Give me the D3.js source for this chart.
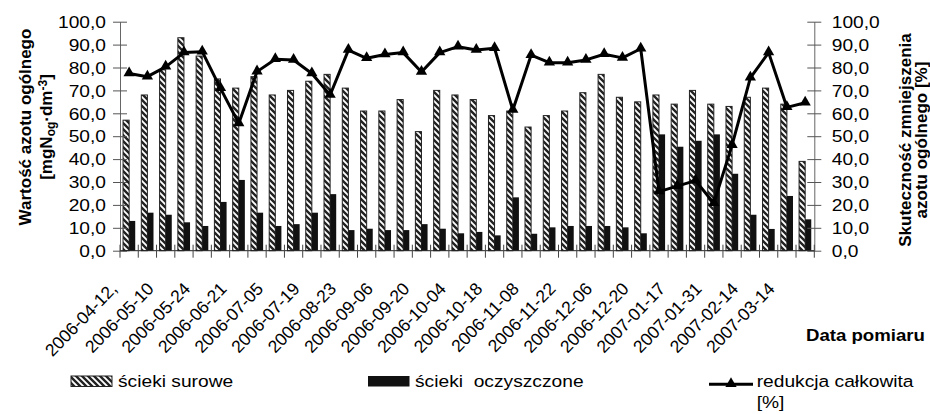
<!DOCTYPE html>
<html>
<head>
<meta charset="utf-8">
<script src="https://cdnjs.cloudflare.com/ajax/libs/d3/7.8.5/d3.min.js"></script>
<style>
  body { margin: 0; background: #fff; }
  svg text { font-family: "Liberation Sans", Arial, sans-serif; fill: #000; }
</style>
</head>
<body>
<div id="chart"></div>
<script>
// tick labels shown under every second measurement
var tickLabels = ['2006-04-12,', '2006-05-10', '2006-05-24', '2006-06-21', '2006-07-05',
  '2006-07-19', '2006-08-23', '2006-09-06', '2006-09-20', '2006-10-04', '2006-10-18',
  '2006-11-08', '2006-11-22', '2006-12-06', '2006-12-20', '2007-01-17', '2007-01-31',
  '2007-02-14', '2007-03-14'] ;
var labelEvery = 2 ;

// raw sewage, total nitrogen [mg/dm3]
var surowe = [57, 68, 79, 93, 85, 75, 71, 76, 68, 70, 74, 77, 71, 61, 61, 66, 52, 70, 68,
  66, 59, 61, 54, 59, 61, 69, 77, 67, 65, 68, 64, 70, 64, 63, 67, 71, 64, 39] ;
// treated sewage
var oczyszczone = [13, 16.6, 15.7, 12.4, 10.8, 21.3, 30.9, 16.6, 10.8, 11.6, 16.6, 24.7, 9.0,
  9.6, 9.0, 9.0, 11.6, 9.6, 7.6, 8.2, 6.7, 23.3, 7.4, 10.2, 10.8, 10.8, 10.8, 10.2, 7.6,
  50.8, 45.4, 48.0, 50.8, 33.6, 15.7, 9.5, 23.9, 13.7] ;
// total reduction [%]
var redukcja = [77.4, 76.0, 80.3, 86.5, 86.9, 70.9, 55.6, 78.2, 83.6, 83.3, 77.4, 68.0, 87.6,
  84.0, 85.7, 86.5, 78.0, 86.5, 89.1, 87.6, 88.4, 61.4, 85.4, 82.1, 82.1, 83.3, 85.8, 84.2,
  88.2, 25.8, 28.2, 30.6, 20.7, 46.1, 75.5, 86.5, 62.6, 64.6] ;

var yTicks = [0, 10, 20, 30, 40, 50, 60, 70, 80, 90, 100] ;

var width = 930, height = 414 ;
var plotL = 120, plotR = 814.3, plotT = 21.7, plotB = 250.7 ;
var SX = 1.13 ; // the picture is a bit wider than tall

var svg = d3.select('#chart').append('svg').attr('width', width).attr('height', height) ;

var defs = svg.append('defs') ;
var pat = defs.append('pattern').attr('id', 'hatch').attr('patternUnits', 'userSpaceOnUse')
  .attr('width', 6).attr('height', 6) ;
pat.append('rect').attr('width', 6).attr('height', 6).attr('fill', '#fff') ;
pat.append('path').attr('d', 'M-1,-1 L7,7 M-1,5 L1,7 M5,-1 L7,1')
  .attr('stroke', '#222').attr('stroke-width', 2.4) ;

var idx = d3.range(surowe.length) ;
var x = d3.scaleBand().domain(idx).range([plotL, plotR]).padding(0) ;
var xs = d3.scaleBand().domain(['s', 'o']).range([0, x.bandwidth()]).paddingInner(0).paddingOuter(0.5) ;
var y = d3.scaleLinear().domain([0, 100]).range([plotB, plotT]) ;
var fmt = function(d) { return d3.format('.1f')(d).replace('.', ',') ; } ;

// bars
svg.append('g').selectAll('rect').data(idx).join('rect')
  .attr('x', function(i) { return x(i) + xs('s') ; })
  .attr('y', function(i) { return y(surowe[i]) ; })
  .attr('width', xs.bandwidth())
  .attr('height', function(i) { return y(0) - y(surowe[i]) ; })
  .attr('fill', 'url(#hatch)').attr('stroke', '#222').attr('stroke-width', 1) ;
svg.append('g').selectAll('rect').data(idx).join('rect')
  .attr('x', function(i) { return x(i) + xs('o') ; })
  .attr('y', function(i) { return y(oczyszczone[i]) ; })
  .attr('width', xs.bandwidth())
  .attr('height', function(i) { return y(0) - y(oczyszczone[i]) ; })
  .attr('fill', '#111') ;

// axes
var ax = svg.append('g').attr('transform', 'translate(' + plotL + ',0)')
  .call(d3.axisLeft(y).tickValues(yTicks).tickSize(7).tickSizeOuter(0).tickFormat(fmt)) ;
var ax2 = svg.append('g').attr('transform', 'translate(' + plotR + ',0)')
  .call(d3.axisRight(y).tickValues(yTicks).tickSize(7).tickSizeOuter(0).tickFormat(fmt)) ;
[ax, ax2].forEach(function(a, k) {
  a.select('.domain').attr('stroke', '#666') ;
  a.selectAll('.tick line').attr('stroke', '#555').attr('x1', k == 0 ? 7 : -7) ;
  a.selectAll('.tick text').attr('x', null).attr('dy', '0.34em')
    .attr('transform', k == 0 ? 'translate(-14,0) scale(' + SX + ',1)' : 'translate(17.4,0) scale(' + SX + ',1)')
    .style('font-size', '17px') ;
}) ;

// category axis with cross ticks between categories
svg.append('line').attr('x1', plotL).attr('x2', plotR).attr('y1', plotB).attr('y2', plotB)
  .attr('stroke', '#222') ;
svg.append('g').selectAll('line').data(d3.range(surowe.length + 1)).join('line')
  .attr('x1', function(i) { return plotL + i * x.step() ; })
  .attr('x2', function(i) { return plotL + i * x.step() ; })
  .attr('y1', plotB - 6).attr('y2', plotB + 7)
  .attr('stroke', '#444') ;
svg.append('g').selectAll('text').data(tickLabels).join('text')
  .attr('transform', function(d, i) {
    var c = x(i * labelEvery) + x.bandwidth() / 2 ;
    return 'translate(' + (c - 11) + ',' + (plotB + 39) + ') rotate(-46)' ;
  })
  .attr('text-anchor', 'end').style('font-size', '17.5px')
  .text(function(d) { return d ; }) ;

// reduction line
var cx = function(i) { return x(i) + x.bandwidth() / 2 ; } ;
svg.append('path').datum(idx)
  .attr('d', d3.line().x(cx).y(function(i) { return y(redukcja[i]) ; }))
  .attr('fill', 'none').attr('stroke', '#000').attr('stroke-width', 3).attr('stroke-linejoin', 'round') ;
svg.append('g').selectAll('path').data(idx).join('path')
  .attr('d', d3.symbol(d3.symbolTriangle, 55))
  .attr('transform', function(i) { return 'translate(' + cx(i) + ',' + (y(redukcja[i]) - 0.5) + ')' ; })
  .attr('fill', '#000') ;

// titles
var lt = svg.append('g').attr('transform', 'translate(0,' + 127 + ') rotate(-90)')
  .style('font-size', '17px').style('font-weight', 'bold') ;
lt.append('text').attr('x', 0).attr('y', 31).attr('text-anchor', 'middle').text('Wartość azotu ogólnego') ;
var l2 = lt.append('text').attr('x', 0).attr('y', 52).attr('text-anchor', 'middle') ;
l2.append('tspan').text('[mgN') ;
l2.append('tspan').attr('baseline-shift', '-25%').style('font-size', '12px').text('og') ;
l2.append('tspan').text('·dm') ;
l2.append('tspan').attr('baseline-shift', '45%').style('font-size', '12px').text('-3') ;
l2.append('tspan').text(']') ;

var rt = svg.append('g').attr('transform', 'translate(0,' + 140 + ') rotate(-90)')
  .style('font-size', '17px').style('font-weight', 'bold') ;
rt.append('text').attr('x', 0).attr('y', 911).attr('text-anchor', 'middle').text('Skuteczność zmniejszenia') ;
rt.append('text').attr('x', 0).attr('y', 927).attr('text-anchor', 'middle').text('azotu ogólnego [%]') ;

svg.append('text').attr('transform', 'translate(925,341) scale(' + SX + ',1)')
  .attr('text-anchor', 'end').style('font-size', '16.5px').style('font-weight', 'bold').text('Data pomiaru') ;

// legend
var lg = svg.append('g') ;
lg.append('rect').attr('x', 71).attr('y', 376).attr('width', 41).attr('height', 10.5)
  .attr('fill', 'url(#hatch)').attr('stroke', '#222') ;
lg.append('text').attr('transform', 'translate(118,386.7) scale(' + SX + ',1)').style('font-size', '17px').text('ścieki surowe') ;
lg.append('rect').attr('x', 368).attr('y', 376).attr('width', 41.5).attr('height', 10.5).attr('fill', '#111') ;
lg.append('text').attr('transform', 'translate(415,386.7) scale(' + SX + ',1)').style('font-size', '17px')
  .style('white-space', 'pre').text('ścieki  oczyszczone') ;
lg.append('line').attr('x1', 709).attr('x2', 753).attr('y1', 384.3).attr('y2', 384.3)
  .attr('stroke', '#000').attr('stroke-width', 3) ;
lg.append('path').attr('d', d3.symbol(d3.symbolTriangle, 55)).attr('transform', 'translate(731,383.8)') ;
lg.append('text').attr('transform', 'translate(756.7,386.7) scale(' + SX + ',1)').style('font-size', '17px').text('redukcja całkowita') ;
lg.append('text').attr('transform', 'translate(756.7,408.3) scale(' + SX + ',1)').style('font-size', '17px').text('[%]') ;
</script>
</body>
</html>
